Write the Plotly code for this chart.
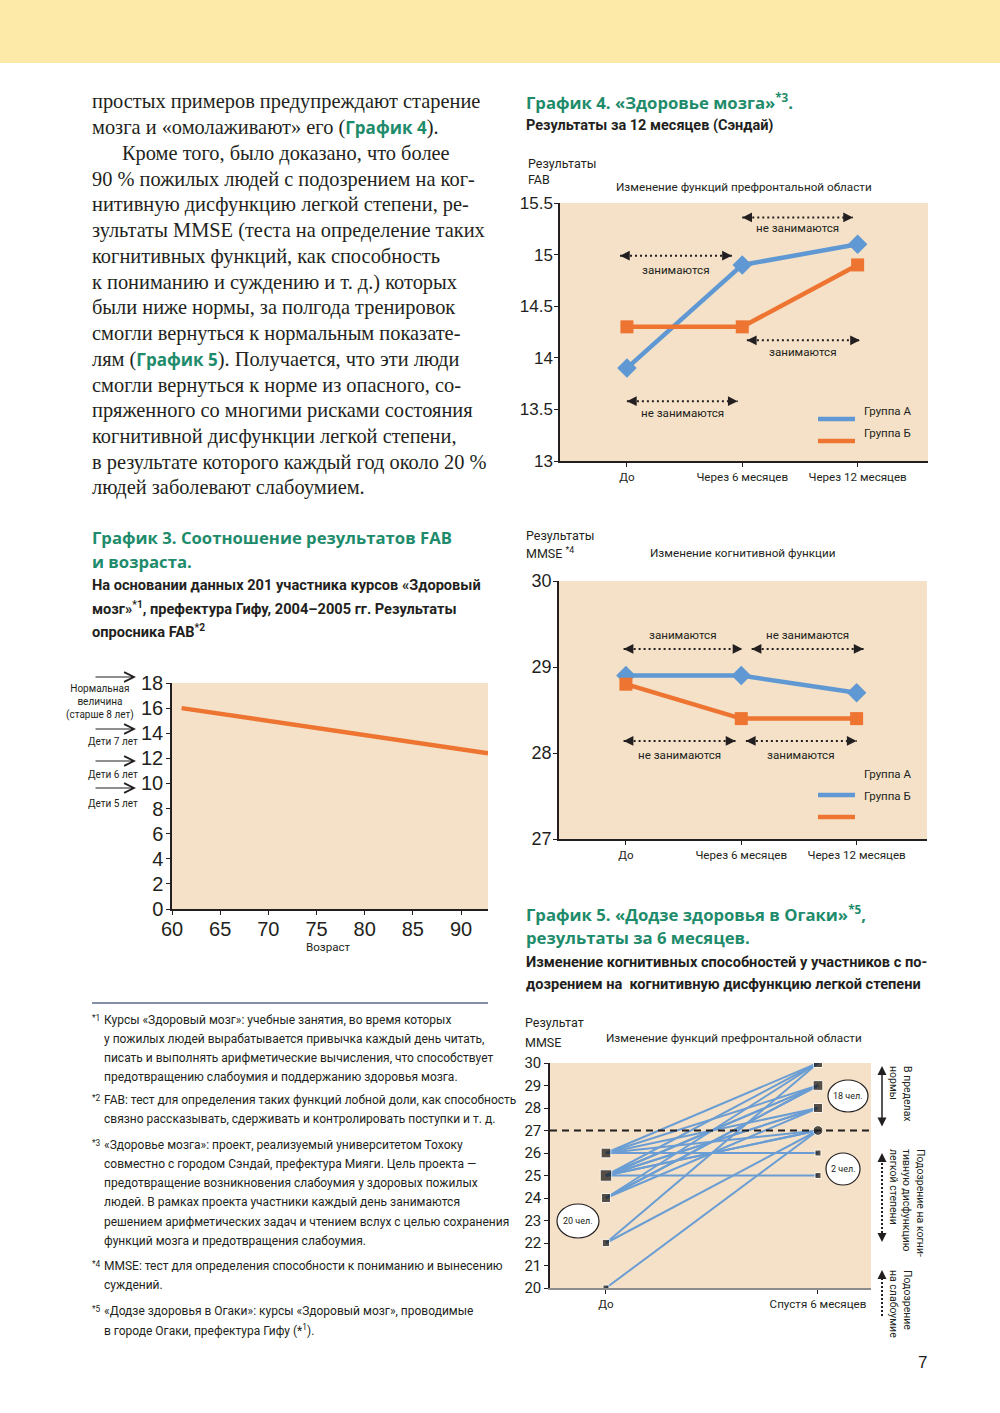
import plotly.graph_objects as go
from collections import Counter

W, H = 1000, 1413

# ---------------- DATA ----------------
# График 3: FAB vs age
fab_age = [61, 92.8]
fab_score = [16.0, 12.4]
fab_age_ticks = [60, 65, 70, 75, 80, 85, 90]
fab_score_ticks = [0, 2, 4, 6, 8, 10, 12, 14, 16, 18]

# График 4: FAB, 12 months (Sendai)
periods = ["До", "Через 6 месяцев", "Через 12 месяцев"]
fab_group_a = [13.9, 14.9, 15.1]
fab_group_b = [14.3, 14.3, 14.9]
fab4_ticks = [13, 13.5, 14, 14.5, 15, 15.5]
fab4_ticktext = ["13", "13.5", "14", "14.5", "15", "15.5"]

# MMSE, 12 months
mmse_group_a = [28.9, 28.9, 28.7]
mmse_group_b = [28.8, 28.4, 28.4]
mmse_ticks = [27, 28, 29, 30]

# График 5: Ogaki, 6 months (20 participants)
ogaki_periods = ["До", "Спустя 6 месяцев"]
ogaki_before = [20, 22, 22, 24, 24, 24, 24, 25, 25, 25, 25, 25, 25, 25, 25, 26, 26, 26, 26, 26]
ogaki_after = [27, 30, 27, 29, 29, 28, 30, 25, 30, 29, 29, 28, 28, 27, 27, 26, 30, 29, 27, 28]
ogaki_ticks = [20, 21, 22, 23, 24, 25, 26, 27, 28, 29, 30]
ogaki_threshold = 27

# ---------------- STYLE ----------------
INK = "#231F20"
GREEN = "#1E8B6B"
BLUE = "#5F98D3"
ORANGE = "#EE7431"
BG = "#F4E1C7"
SERIF = "Liberation Serif, DejaVu Serif, serif"
COND = "Noto Sans Condensed, Roboto, sans-serif"
NUM = "Liberation Sans, Arial, sans-serif"
TITLE = "Open Sans, Noto Sans, sans-serif"


def xd(a, b):
    return [a / W, b / W]


def yd(top, bottom):
    return [1 - bottom / H, 1 - top / H]


def PX(x):
    return x / W


def PY(y):
    return 1 - y / H


annotations = []
shapes = []


def text(x, y, s, size=12, family=COND, color=INK, xanchor="left", yanchor="middle", **kw):
    if xanchor == "left":
        x -= 1
    annotations.append(dict(xref="paper", yref="paper", x=PX(x), y=PY(y), text=s,
                            showarrow=False, font=dict(size=size, family=family, color=color),
                            xanchor=xanchor, yanchor=yanchor, borderpad=0, **kw))


def arrow(x, y, ax, ay, head=2, xref="paper", yref="paper", both=False, width=1.5, size=1.2):
    d = dict(xref=xref, yref=yref, x=x, y=y, ax=ax, ay=ay, text="", showarrow=True,
             arrowhead=head, arrowsize=size, arrowwidth=width, arrowcolor=INK, standoff=0)
    if both:
        d.update(arrowside="end+start", startarrowhead=head, startarrowsize=size, startstandoff=0)
    annotations.append(d)


def dotted_arrow(xa, ya, x0, x1, y, label, ly):
    shapes.append(dict(type="line", xref=xa, yref=ya, x0=x0, x1=x1, y0=y, y1=y,
                       line=dict(color=INK, width=2, dash="2px,3px")))
    arrow(x0, y, 8, 0, xref=xa, yref=ya, size=1.3)
    arrow(x1, y, -8, 0, xref=xa, yref=ya, size=1.3)
    annotations.append(dict(xref=xa, yref=ya, x=(x0 + x1) / 2, y=ly, text=label, showarrow=False,
                            font=dict(size=11.6, family=COND, color=INK)))


fig = go.Figure()

# ---------------- Chart 3 ----------------
fig.add_trace(go.Scatter(x=fab_age, y=fab_score, mode="lines",
                         line=dict(color=ORANGE, width=4.5), xaxis="x", yaxis="y"))

# ---------------- Chart 4 ----------------
idx = list(range(len(periods)))
fig.add_trace(go.Scatter(x=idx, y=fab_group_a, mode="lines+markers", name="Группа А",
                         line=dict(color=BLUE, width=4.5),
                         marker=dict(symbol="diamond", size=15, color=BLUE), xaxis="x2", yaxis="y2"))
fig.add_trace(go.Scatter(x=idx, y=fab_group_b, mode="lines+markers", name="Группа Б",
                         line=dict(color=ORANGE, width=4.5),
                         marker=dict(symbol="square", size=13, color=ORANGE), xaxis="x2", yaxis="y2"))

# ---------------- Chart MMSE ----------------
fig.add_trace(go.Scatter(x=idx, y=mmse_group_a, mode="lines+markers", name="Группа А",
                         line=dict(color=BLUE, width=4.5),
                         marker=dict(symbol="diamond", size=15, color=BLUE), xaxis="x3", yaxis="y3"))
fig.add_trace(go.Scatter(x=idx, y=mmse_group_b, mode="lines+markers", name="Группа Б",
                         line=dict(color=ORANGE, width=4.5),
                         marker=dict(symbol="square", size=13, color=ORANGE), xaxis="x3", yaxis="y3"))

# ---------------- Chart 5 ----------------
lx, ly = [], []
for b, a in zip(ogaki_before, ogaki_after):
    lx += [0, 1, None]
    ly += [b, a, None]
fig.add_trace(go.Scatter(x=lx, y=ly, mode="lines", line=dict(color="#6A9DD3", width=2),
                         xaxis="x4", yaxis="y4"))

cb = Counter(ogaki_before)
ca = Counter(ogaki_after)
lv_b = sorted(cb)
lv_a = sorted(ca)


def msize(n):
    return 3 + 3 * n ** 0.5


fig.add_trace(go.Scatter(x=[0] * len(lv_b), y=lv_b, mode="markers",
                         marker=dict(symbol="square", color="#111", size=[msize(cb[v]) for v in lv_b]),
                         xaxis="x4", yaxis="y4"))
fig.add_trace(go.Scatter(x=[1] * len(lv_a), y=lv_a, mode="markers",
                         marker=dict(symbol=["circle" if v == ogaki_threshold else "square" for v in lv_a],
                                     color="#111", size=[msize(ca[v]) for v in lv_a]),
                         xaxis="x4", yaxis="y4"))

shapes.append(dict(type="line", xref="x4 domain", yref="y4", x0=0, x1=1,
                   y0=ogaki_threshold, y1=ogaki_threshold,
                   line=dict(color=INK, width=1.8, dash="7px,5px")))

# ---------------- Axes ----------------
common = dict(showgrid=False, zeroline=False, showline=True, linecolor=INK, linewidth=1.5,
              ticks="outside", ticklen=4, tickcolor=INK, automargin=False, tickangle=0)

fig.update_layout(
    template="none",
    xaxis=dict(domain=xd(172, 488), range=[60, 92.8], tickvals=fab_age_ticks, anchor="y",
               tickfont=dict(family=NUM, size=20, color=INK), ticklabelstandoff=-3, **common),
    yaxis=dict(domain=yd(683, 909), range=[0, 18], tickvals=fab_score_ticks, anchor="x",
               tickfont=dict(family=NUM, size=20, color=INK), ticklabelstandoff=-1, **common),
    xaxis2=dict(domain=xd(560, 928), range=[-0.58, 2.61], tickvals=idx, ticktext=periods, anchor="y2",
                tickfont=dict(family=COND, size=11.6, color=INK), **common),
    yaxis2=dict(domain=yd(203, 461), range=[13, 15.5], tickvals=fab4_ticks, ticktext=fab4_ticktext,
                anchor="x2", tickfont=dict(family=NUM, size=17, color=INK), ticklabelstandoff=-2, **common),
    xaxis3=dict(domain=xd(559, 927), range=[-0.58, 2.61], tickvals=idx, ticktext=periods, anchor="y3",
                tickfont=dict(family=COND, size=11.6, color=INK), **common),
    yaxis3=dict(domain=yd(581, 839), range=[27, 30], tickvals=mmse_ticks, anchor="x3",
                tickfont=dict(family=NUM, size=18, color=INK), ticklabelstandoff=-2, **common),
    xaxis4=dict(domain=xd(550, 871), range=[-0.264, 1.25], tickvals=[0, 1], ticktext=ogaki_periods,
                anchor="y4", tickfont=dict(family=COND, size=11.6, color=INK),
                **{**common, "linecolor": "#8C8C8C"}),
    yaxis4=dict(domain=yd(1063, 1288), range=[20, 30], tickvals=ogaki_ticks, anchor="x4",
                tickfont=dict(family=COND, size=15, color=INK), **common),
)

# ---------------- Page decoration ----------------
shapes.append(dict(type="rect", xref="paper", yref="paper", x0=0, x1=1, y0=PY(63), y1=1,
                   fillcolor="#FEEAA8", line=dict(width=0), layer="below"))

# Body text
G_OPEN = "<span style=\"color:#1E8B6B;font-family:Open Sans;font-size:17px\"><b>"
G_CLOSE = "</b></span>"
body_lines = [
    "простых примеров предупреждают старение",
    "мозга и «омолаживают» его (" + G_OPEN + "График 4" + G_CLOSE + ").",
    "Кроме того, было доказано, что более",
    "90 % пожилых людей с подозрением на ког-",
    "нитивную дисфункцию легкой степени, ре-",
    "зультаты MMSE (теста на определение таких",
    "когнитивных функций, как способность",
    "к пониманию и суждению и т. д.) которых",
    "были ниже нормы, за полгода тренировок",
    "смогли вернуться к нормальным показате-",
    "лям (" + G_OPEN + "График 5" + G_CLOSE + "). Получается, что эти люди",
    "смогли вернуться к норме из опасного, со-",
    "пряженного со многими рисками состояния",
    "когнитивной дисфункции легкой степени,",
    "в результате которого каждый год около 20 %",
    "людей заболевают слабоумием.",
]
for i, s in enumerate(body_lines):
    text(122 if i == 2 else 92, 102 + i * 25.73, s, size=20.4, family=SERIF)

# Chart 3 titles
text(92, 537, "<b>График 3. Соотношение результатов FAB</b>", 16.7, TITLE, GREEN)
text(92, 561, "<b>и возраста.</b>", 16.7, TITLE, GREEN)
text(92, 585, "<b>На основании данных 201 участника курсов «Здоровый</b>", 14.6)
text(92, 608, "<b>мозг»<sup>*1</sup>, префектура Гифу, 2004–2005 гг. Результаты</b>", 14.6)
text(92, 631, "<b>опросника FAB<sup>*2</sup></b>", 14.6)
text(328, 947, "Возраст", 11.6, xanchor="center")

for ya in [677, 729, 761, 788]:
    arrow(PX(136), PY(ya), -42, 0, head=5, width=1.2, size=1.6)
text(100, 702, "Нормальная<br>величина<br>(старше 8 лет)", 10, xanchor="center", align="center")
text(113, 742, "Дети 7 лет", 10, xanchor="center")
text(113, 775, "Дети 6 лет", 10, xanchor="center")
text(113, 803, "Дети 5 лет", 10, xanchor="center")

# Chart 4 titles / labels
text(526, 102, "<b>График 4. «Здоровье мозга»<sup>*3</sup>.</b>", 16.7, TITLE, GREEN)
text(526, 125, "<b>Результаты за 12 месяцев (Сэндай)</b>", 14.5)
text(528, 163, "Результаты", 12.5)
text(528, 180, "FAB", 12.5)
text(744, 187, "Изменение функций префронтальной области", 11.7, xanchor="center")
dotted_arrow("x2", "y2", 1.0, 1.96, 15.36, "не занимаются", 15.26)
dotted_arrow("x2", "y2", -0.06, 0.91, 14.99, "занимаются", 14.85)
dotted_arrow("x2", "y2", 1.04, 2.02, 14.17, "занимаются", 14.06)
dotted_arrow("x2", "y2", 0.0, 0.96, 13.58, "не занимаются", 13.47)
shapes.append(dict(type="line", xref="paper", yref="paper", x0=PX(818), x1=PX(855), y0=PY(419), y1=PY(419),
                   line=dict(color=BLUE, width=4.5)))
shapes.append(dict(type="line", xref="paper", yref="paper", x0=PX(818), x1=PX(855), y0=PY(441), y1=PY(441),
                   line=dict(color=ORANGE, width=4.5)))
text(864, 411, "Группа А", 11.5)
text(864, 433, "Группа Б", 11.5)

# MMSE chart titles / labels
text(526, 535, "Результаты", 12.5)
text(526, 553, "MMSE <sup>*4</sup>", 12.5)
text(742, 553, "Изменение когнитивной функции", 11.7, xanchor="center")
dotted_arrow("x3", "y3", -0.02, 1.01, 29.21, "занимаются", 29.37)
dotted_arrow("x3", "y3", 1.09, 2.06, 29.21, "не занимаются", 29.37)
dotted_arrow("x3", "y3", -0.02, 0.95, 28.14, "не занимаются", 27.98)
dotted_arrow("x3", "y3", 1.04, 2.0, 28.14, "занимаются", 27.98)
text(864, 774, "Группа А", 11.5)
text(864, 796, "Группа Б", 11.5)
shapes.append(dict(type="line", xref="paper", yref="paper", x0=PX(818), x1=PX(855), y0=PY(795), y1=PY(795),
                   line=dict(color=BLUE, width=4.5)))
shapes.append(dict(type="line", xref="paper", yref="paper", x0=PX(818), x1=PX(855), y0=PY(817), y1=PY(817),
                   line=dict(color=ORANGE, width=4.5)))

# Chart 5 titles / labels
text(526, 914, "<b>График 5. «Додзе здоровья в Огаки»<sup>*5</sup>,</b>", 16.7, TITLE, GREEN)
text(526, 937, "<b>результаты за 6 месяцев.</b>", 16.7, TITLE, GREEN)
text(526, 962, "<b>Изменение когнитивных способностей у участников с по-</b>", 14.6)
text(526, 984, "<b>дозрением на  когнитивную дисфункцию легкой степени</b>", 14.6)
text(525, 1023, "Результат", 12.5)
text(525, 1042, "MMSE", 12.5)
text(734, 1038, "Изменение функций префронтальной области", 11.7, xanchor="center")

for cx, cy, rx, ry, lab in [(578, 1221, 21, 17, "20 чел."), (848, 1096, 20, 16, "18 чел."),
                            (843, 1169, 17, 16, "2 чел.")]:
    shapes.append(dict(type="circle", xref="paper", yref="paper", x0=PX(cx - rx), x1=PX(cx + rx),
                       y0=PY(cy + ry), y1=PY(cy - ry), fillcolor="white", line=dict(color=INK, width=1.2)))
    text(cx, cy, lab, 9, xanchor="center")

# Right-side vertical arrows and notes
arrow(PX(882), PY(1066), 0, 62, head=2, both=True, width=1.5, size=1.2)
shapes.append(dict(type="line", xref="paper", yref="paper", x0=PX(882), x1=PX(882), y0=PY(1155), y1=PY(1240),
                   line=dict(color=INK, width=2, dash="2px,2px")))
arrow(PX(882), PY(1153), 0, 7, size=1.2)
arrow(PX(882), PY(1242), 0, -7, size=1.2)
shapes.append(dict(type="line", xref="paper", yref="paper", x0=PX(882), x1=PX(882), y0=PY(1274), y1=PY(1318),
                   line=dict(color=INK, width=2, dash="2px,2px")))
arrow(PX(882), PY(1270), 0, 7, size=1.2)

text(901, 1094, "В пределах<br>нормы", 10.5, xanchor="center", textangle=90, align="left")
text(907, 1203, "Подозрение на когни-<br>тивную дисфункцию<br>легкой степени", 10.5, xanchor="center",
     textangle=90, align="left")
text(901, 1304, "Подозрение<br>на слабоумие", 10.5, xanchor="center", textangle=90, align="left")

# Footnotes
shapes.append(dict(type="line", xref="paper", yref="paper", x0=PX(92), x1=PX(488), y0=PY(1003), y1=PY(1003),
                   line=dict(color="#5A6A8C", width=1.5)))
footnotes = [
    ("1", ["Курсы «Здоровый мозг»: учебные занятия, во время которых",
           "у пожилых людей вырабатывается привычка каждый день читать,",
           "писать и выполнять арифметические вычисления, что способствует",
           "предотвращению слабоумия и поддержанию здоровья мозга."]),
    ("2", ["FAB: тест для определения таких функций лобной доли, как способность",
           "связно рассказывать, сдерживать и контролировать поступки и т. д."]),
    ("3", ["«Здоровье мозга»: проект, реализуемый университетом Тохоку",
           "совместно с городом Сэндай, префектура Мияги. Цель проекта —",
           "предотвращение возникновения слабоумия у здоровых пожилых",
           "людей. В рамках проекта участники каждый день занимаются",
           "решением арифметических задач и чтением вслух с целью сохранения",
           "функций мозга и предотвращения слабоумия."]),
    ("4", ["MMSE: тест для определения способности к пониманию и вынесению",
           "суждений."]),
    ("5", ["«Додзе здоровья в Огаки»: курсы «Здоровый мозг», проводимые",
           "в городе Огаки, префектура Гифу (*<sup>1</sup>)."]),
]
fn_y = [[1020, 1039, 1058, 1077], [1100, 1119], [1145, 1164, 1183, 1202, 1222, 1241], [1266, 1285],
        [1311, 1330]]
for (num, lines), ys in zip(footnotes, fn_y):
    text(92, ys[0] - 2, "<sup>*" + num + "</sup>", 12)
    for s, yy in zip(lines, ys):
        text(104, yy, s, 12)

text(922, 1362, "7", 17, family=NUM, xanchor="center")

fig.update_layout(
    width=W, height=H, margin=dict(l=0, r=0, t=0, b=0, autoexpand=False),
    paper_bgcolor="white", plot_bgcolor=BG, showlegend=False,
    annotations=annotations, shapes=shapes,
)

fig.write_html("out.html", config={"displayModeBar": False},
               post_script="document.body.style.margin='0';")
